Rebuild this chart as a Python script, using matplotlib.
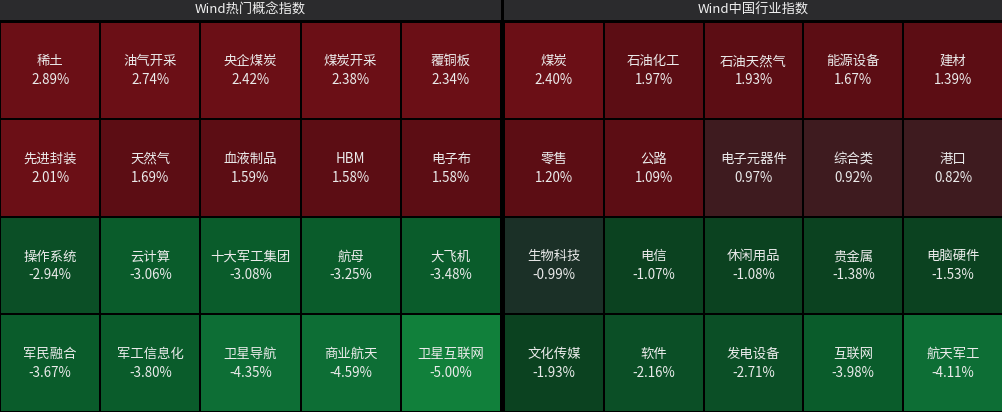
import matplotlib.pyplot as plt
import numpy as np
from matplotlib.colors import ListedColormap, BoundaryNorm

plt.rcParams['font.family'] = ['Noto Sans CJK SC', 'DejaVu Sans']

titles = ['Wind热门概念指数', 'Wind中国行业指数']

concept_names = ['稀土', '油气开采', '央企煤炭', '煤炭开采', '覆铜板',
                 '先进封装', '天然气', '血液制品', 'HBM', '电子布',
                 '操作系统', '云计算', '十大军工集团', '航母', '大飞机',
                 '军民融合', '军工信息化', '卫星导航', '商业航天', '卫星互联网']
concept_pct = [2.89, 2.74, 2.42, 2.38, 2.34,
               2.01, 1.69, 1.59, 1.58, 1.58,
               -2.94, -3.06, -3.08, -3.25, -3.48,
               -3.67, -3.80, -4.35, -4.59, -5.00]

industry_names = ['煤炭', '石油化工', '石油天然气', '能源设备', '建材',
                  '零售', '公路', '电子元器件', '综合类', '港口',
                  '生物科技', '电信', '休闲用品', '贵金属', '电脑硬件',
                  '文化传媒', '软件', '发电设备', '互联网', '航天军工']
industry_pct = [2.40, 1.97, 1.93, 1.67, 1.39,
                1.20, 1.09, 0.97, 0.92, 0.82,
                -0.99, -1.07, -1.08, -1.38, -1.53,
                -1.93, -2.16, -2.71, -3.98, -4.11]

# stepped colour scale (green = down, red = up)
bounds = [-10, -4.995, -4, -3, -2, -1, 0, 1, 2, 10]
colors = ['#11803b', '#0d6e35', '#0a5c2b', '#0b4f26', '#0b4220',
          '#1b3027', '#3e1b1f', '#5c0d14', '#6b0f16']
cmap = ListedColormap(colors)
norm = BoundaryNorm(bounds, cmap.N)

W, H = 1003, 412
head_h = 20
fig = plt.figure(figsize=(W / 100, H / 100), dpi=100, facecolor='black')

panels = [(0, 501), (504, 499)]
for (x0, w), title, names, pct in zip(panels, titles,
                                      [concept_names, industry_names],
                                      [concept_pct, industry_pct]):
    # header
    hax = fig.add_axes([x0 / W, (H - head_h) / H, w / W, head_h / H])
    hax.set_facecolor('#2b2b2d')
    hax.set_xticks([]); hax.set_yticks([])
    for s in hax.spines.values():
        s.set_visible(False)
    hax.text(0.5, 0.5, title, color='#f0f0f0', fontsize=9.5,
             ha='center', va='center', transform=hax.transAxes)

    # grid of cells
    ax = fig.add_axes([x0 / W, 0, w / W, (H - head_h - 1.5) / H])
    vals = np.array(pct).reshape(4, 5)
    ax.pcolormesh(vals, cmap=cmap, norm=norm, edgecolors='black', linewidth=1.1)
    ax.set_xlim(0, 5)
    ax.set_ylim(4, 0)
    ax.set_xticks([]); ax.set_yticks([])
    for s in ax.spines.values():
        s.set_visible(False)
    for k, (n, v) in enumerate(zip(names, pct)):
        i, j = divmod(k, 5)
        ax.text(j + 0.5, i + 0.5 - 0.095, n, color='#ebebeb', fontsize=9.6,
                ha='center', va='center')
        ax.text(j + 0.5, i + 0.5 + 0.1, f'{v:.2f}%', color='#ebebeb',
                fontsize=9.6, ha='center', va='center')

fig.savefig('out.png', dpi=100, facecolor='black')
